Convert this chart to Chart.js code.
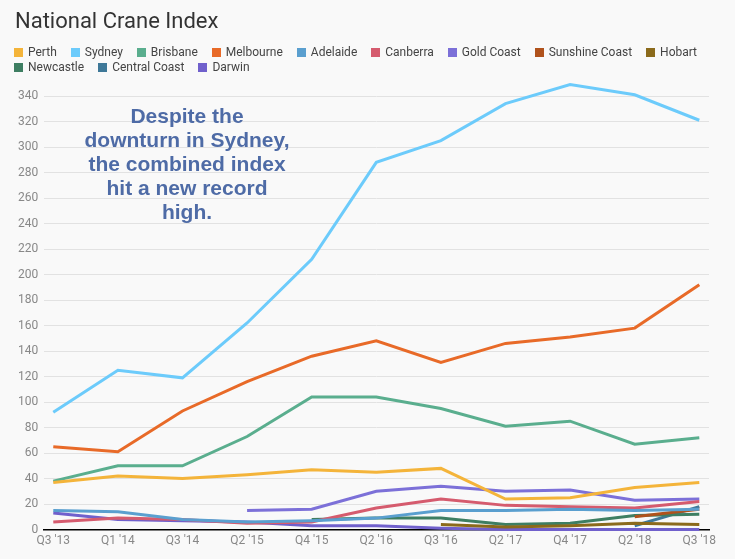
<!DOCTYPE html>
<html>
<head>
<meta charset="utf-8">
<script src="https://cdn.jsdelivr.net/npm/chart.js@4/dist/chart.umd.min.js"></script>
<style>
    body { margin: 0; background: #f9f9f9; }
    #wrap { position: relative; width: 735px; height: 559px; background: #f9f9f9; font-family: Roboto, sans-serif; }
    #title { position: absolute; left: 15px; top: 8px; font-size: 22px; color: #333; }
    #legend { position: absolute; left: 14px; top: 45px; width: 705px; display: flex; flex-wrap: wrap; font-size: 12px; line-height: 15px; color: #444; }
    #legend .item { display: flex; align-items: center; margin-right: 14px; }
    #legend .box { width: 9px; height: 9px; margin-right: 5px; }
    #note { position: absolute; left: 57px; top: 104px; width: 260px; text-align: center; font: bold 21px "Liberation Sans", Arial, sans-serif; line-height: 24px; color: #4e6ba6; }
    canvas { position: absolute; left: 0; top: 0; }
</style>
</head>
<body>
<div id="wrap">
    <canvas id="chartCrane"></canvas>
    <div id="title">National Crane Index</div>
    <div id="legend"></div>
    <div id="note">Despite the<br>downturn in Sydney,<br>the combined index<br>hit a new record<br>high.</div>
</div>
<script>
const quarters = ["Q3 '13", "Q1 '14", "Q3 '14", "Q2 '15", "Q4 '15", "Q2 '16", "Q3 '16", "Q2 '17", "Q4 '17", "Q2 '18", "Q3 '18"];
const yTicks = [0, 20, 40, 60, 80, 100, 120, 140, 160, 180, 200, 220, 240, 260, 280, 300, 320, 340];

const perth = [37, 42, 40, 43, 47, 45, 48, 24, 25, 33, 37];
const sydney = [92, 125, 119, 162, 212, 288, 305, 334, 349, 341, 321];
const brisbane = [38, 50, 50, 73, 104, 104, 95, 81, 85, 67, 72];
const melbourne = [65, 61, 93, 116, 136, 148, 131, 146, 151, 158, 192];
const adelaide = [15, 14, 8, 6, 7, 9, 15, 15, 16, 15, 16];
const canberra = [6, 9, 8, 5, 6, 17, 24, 19, 18, 17, 22];
const goldCoast = [null, null, null, 15, 16, 30, 34, 30, 31, 23, 24];
const sunshineCoast = [null, null, null, null, null, null, null, null, null, 10, 16];
const hobart = [null, null, null, null, null, null, 4, 2, 3, 5, 4];
const newcastle = [null, null, null, null, 8, 9, 9, 4, 5, 11, 12];
const centralCoast = [null, null, null, null, null, null, null, null, null, 3, 18];
const darwin = [13, 8, 7, 6, 3, 3, 1, 0, 0, 0, 0];

const series = [
    ["Perth", perth, "#f4b43a"],
    ["Sydney", sydney, "#6ccbfb"],
    ["Brisbane", brisbane, "#5aae8e"],
    ["Melbourne", melbourne, "#e86a28"],
    ["Adelaide", adelaide, "#5a9fcf"],
    ["Canberra", canberra, "#d55b6e"],
    ["Gold Coast", goldCoast, "#7c70d8"],
    ["Sunshine Coast", sunshineCoast, "#b0521c"],
    ["Hobart", hobart, "#8b6a1b"],
    ["Newcastle", newcastle, "#3e7e62"],
    ["Central Coast", centralCoast, "#3e7898"],
    ["Darwin", darwin, "#7060cc"],
];

// legend drawn as html so it wraps like the original
const htmlLegend = {
    id: "htmlLegend",
    afterUpdate(chart) {
        const box = document.getElementById("legend");
        box.innerHTML = "";
        chart.data.datasets.forEach((ds) => {
            const item = document.createElement("div");
            item.className = "item";
            const sw = document.createElement("span");
            sw.className = "box";
            sw.style.background = ds.borderColor;
            item.appendChild(sw);
            item.appendChild(document.createTextNode(ds.label));
            box.appendChild(item);
        });
    },
};

document.addEventListener("DOMContentLoaded", () => {
    const canvas = document.getElementById("chartCrane");
    canvas.width = 735;
    canvas.height = 559;
    const ctx = canvas.getContext("2d");

    new Chart(ctx, {
        type: "line",
        data: {
            datasets: series.map(([label, values, color]) => ({
                label,
                data: values.map((v, i) => ({ x: i, y: v })),
                borderColor: color,
                backgroundColor: color,
                borderWidth: 3,
                pointRadius: 0,
                tension: 0,
                clip: 6,
            })),
        },
        options: {
            responsive: false,
            animation: false,
            layout: { padding: { top: 82, left: 12, right: 26, bottom: 7 } },
            plugins: {
                legend: { display: false },
                tooltip: { enabled: false },
            },
            scales: {
                x: {
                    type: "linear",
                    min: -0.14,
                    max: 10.15,
                    afterBuildTicks: (scale) => {
                        scale.ticks = quarters.map((_, i) => ({ value: i }));
                    },
                    ticks: {
                        callback: (v) => quarters[v],
                        color: "#888",
                        font: { family: "Roboto", size: 12 },
                        padding: 4,
                        maxRotation: 0,
                        autoSkip: false,
                    },
                    grid: { display: false, drawTicks: false },
                    border: { display: true, color: "#000", width: 1.5 },
                },
                y: {
                    min: 0,
                    max: 351,
                    afterBuildTicks: (scale) => {
                        scale.ticks = yTicks.map((v) => ({ value: v }));
                    },
                    ticks: {
                        color: "#888",
                        font: { family: "Roboto", size: 12 },
                        padding: 6,
                    },
                    grid: { color: "#e2e2e2", drawTicks: false },
                    border: { display: false },
                },
            },
        },
        plugins: [htmlLegend],
    });
});
</script>
</body>
</html>
